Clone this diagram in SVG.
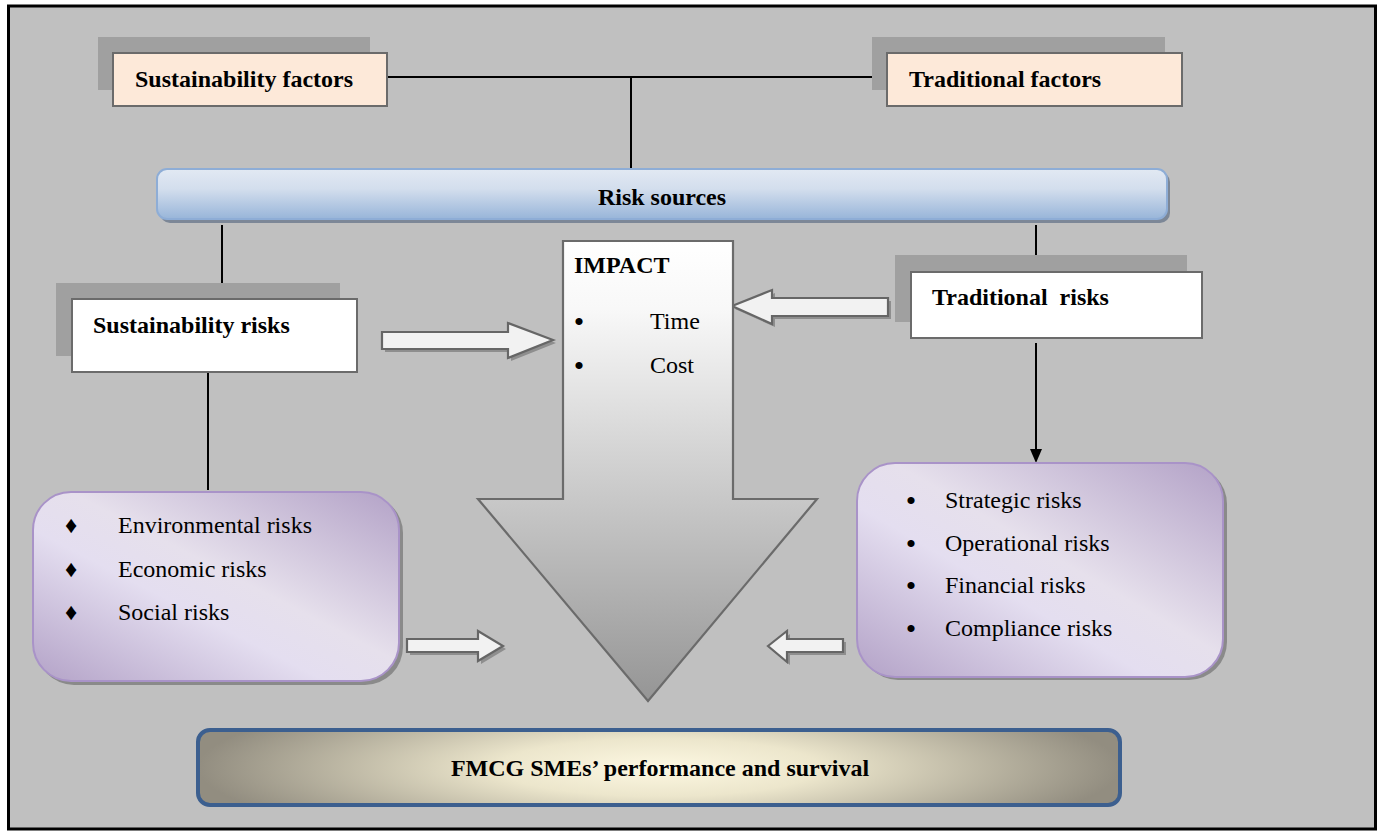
<svg xmlns="http://www.w3.org/2000/svg" width="1384" height="831" viewBox="0 0 1384 831">
<defs>
<style>
.t{font-family:'Liberation Serif','Times New Roman',Times,'DejaVu Serif','Noto Serif',serif;font-size:24px;fill:#000}
.b{font-weight:bold}
.bul{font-size:30px}
.shadow{fill:#a0a0a0}
.factor{fill:#fde9d9;stroke:#6b6b6b;stroke-width:2}
.risk{fill:#ffffff;stroke:#6b6b6b;stroke-width:2}
.line{stroke:#000;stroke-width:2;fill:none}
.barrow{fill:#f2f2f2;stroke:#666;stroke-width:2.2;stroke-linejoin:miter}
.barrowsh{fill:#8e8e8e}
.purple{fill:url(#gPurple);stroke:#a993c8;stroke-width:2}
.purplesh{fill:#8a8a8a}
</style>
<linearGradient id="gPurple" x1="1" y1="0" x2="0" y2="1">
<stop offset="0" stop-color="#b3a2c7"/>
<stop offset="0.45" stop-color="#e6e0ec"/>
<stop offset="0.6" stop-color="#e4def0"/>
<stop offset="1" stop-color="#b3a2c7"/>
</linearGradient>
<linearGradient id="gBlue" x1="0" y1="0" x2="0" y2="1">
<stop offset="0" stop-color="#e2e9f3"/>
<stop offset="0.4" stop-color="#d3deed"/>
<stop offset="1" stop-color="#98b5d9"/>
</linearGradient>
<linearGradient id="gArrow" x1="0" y1="240" x2="0" y2="701" gradientUnits="userSpaceOnUse">
<stop offset="0" stop-color="#ffffff"/>
<stop offset="0.15" stop-color="#f8f8f8"/>
<stop offset="1" stop-color="#959595"/>
</linearGradient>
<radialGradient id="gBottom" cx="0.5" cy="0.5" r="0.5" gradientTransform="translate(0.5 0.5) scale(1 2.2) translate(-0.5 -0.5)">
<stop offset="0" stop-color="#fdf8e2"/>
<stop offset="0.35" stop-color="#ece6cc"/>
<stop offset="1" stop-color="#928d80"/>
</radialGradient>
</defs>

<rect x="0" y="0" width="1384" height="831" fill="#ffffff"/>
<rect x="8.5" y="6" width="1367" height="823" fill="#c0c0c0" stroke="#000" stroke-width="3"/>

<g id="connectors">
<line class="line" x1="387" y1="77" x2="887" y2="77"/>
<line class="line" x1="631" y1="77" x2="631" y2="168"/>
<line class="line" x1="222" y1="225" x2="222" y2="290"/>
<line class="line" x1="208" y1="372" x2="208" y2="490"/>
<line class="line" x1="1036" y1="225" x2="1036" y2="280"/>
<line class="line" x1="1036" y1="343" x2="1036" y2="450"/>
<path d="M1030,449 L1042,449 L1036,463 Z" fill="#000"/>
<polygon class="barrowsh" points="385,335 511,335 511,326 556,343 511,361 511,352 385,352"/>
<polygon class="barrow" points="382,332 508,332 508,323 553,340 508,358 508,349 382,349"/>
<polygon class="barrowsh" points="735,309 775,293 775,301 891,301 891,319 775,319 775,327"/>
<polygon class="barrow" points="732,306 772,290 772,298 888,298 888,316 772,316 772,324"/>
<polygon class="barrowsh" points="410,642 481,642 481,634 506,649 481,664 481,655 410,655"/>
<polygon class="barrow" points="407,639 478,639 478,631 503,646 478,661 478,652 407,652"/>
<polygon class="barrowsh" points="771,649 790,634 790,642 846,642 846,655 790,655 790,665"/>
<polygon class="barrow" points="768,646 787,631 787,639 843,639 843,652 787,652 787,662"/>
</g>

<g id="sustainability-factors">
<rect class="shadow" x="98" y="37" width="272" height="53"/>
<rect class="factor" x="113" y="53" width="274" height="53"/>
<text class="t b" x="135" y="87">Sustainability factors</text>
</g>

<g id="traditional-factors">
<rect class="shadow" x="872" y="37" width="293" height="53"/>
<rect class="factor" x="887" y="53" width="295" height="53"/>
<text class="t b" x="909" y="87">Traditional factors</text>
</g>

<g id="risk-sources">
<rect x="160" y="172" width="1010" height="51" rx="10" fill="#7c8797"/>
<rect x="157" y="169" width="1010" height="50" rx="10" fill="url(#gBlue)" stroke="#8eadd6" stroke-width="2"/>
<text class="t b" x="662" y="205" text-anchor="middle">Risk sources</text>
</g>

<g id="sustainability-risks">
<rect class="shadow" x="56" y="283" width="284" height="73"/>
<rect class="risk" x="72" y="299" width="285" height="73"/>
<text class="t b" x="93" y="333">Sustainability risks</text>
</g>

<g id="traditional-risks">
<rect class="shadow" x="895" y="255" width="292" height="67"/>
<rect class="risk" x="911" y="272" width="291" height="66"/>
<text class="t b" x="932" y="305" style="white-space:pre">Traditional  risks</text>
</g>

<g id="impact">
<polygon points="563,241 733,241 733,499 817,499 648,701 478,499 563,499" fill="url(#gArrow)" stroke="#6b6b6b" stroke-width="2.2"/>
<text class="t b" x="574" y="273">IMPACT</text>
<text class="t bul" x="579" y="332" text-anchor="middle">•</text>
<text class="t" x="650" y="329">Time</text>
<text class="t bul" x="579" y="376" text-anchor="middle">•</text>
<text class="t" x="650" y="373">Cost</text>
</g>

<g id="sustainability-list">
<rect class="purplesh" x="36" y="495" width="367" height="190" rx="38"/>
<rect class="purple" x="33" y="492" width="366" height="189" rx="38"/>
<text class="t" x="71" y="533" text-anchor="middle">♦</text>
<text class="t" x="118" y="533">Environmental risks</text>
<text class="t" x="71" y="577" text-anchor="middle">♦</text>
<text class="t" x="118" y="577">Economic risks</text>
<text class="t" x="71" y="620" text-anchor="middle">♦</text>
<text class="t" x="118" y="620">Social risks</text>
</g>

<g id="traditional-list">
<rect class="purplesh" x="860" y="466" width="367" height="214" rx="38"/>
<rect class="purple" x="857" y="463" width="366" height="214" rx="38"/>
<text class="t bul" x="911" y="511" text-anchor="middle">•</text>
<text class="t" x="945" y="508">Strategic risks</text>
<text class="t bul" x="911" y="554" text-anchor="middle">•</text>
<text class="t" x="945" y="551">Operational risks</text>
<text class="t bul" x="911" y="596" text-anchor="middle">•</text>
<text class="t" x="945" y="593">Financial risks</text>
<text class="t bul" x="911" y="639" text-anchor="middle">•</text>
<text class="t" x="945" y="636">Compliance risks</text>
</g>

<g id="performance">
<rect x="198" y="730" width="922" height="75" rx="12" fill="url(#gBottom)" stroke="#3c5f8f" stroke-width="4"/>
<text class="t b" x="660" y="776" text-anchor="middle">FMCG SMEs’ performance and survival</text>
</g>
</svg>
